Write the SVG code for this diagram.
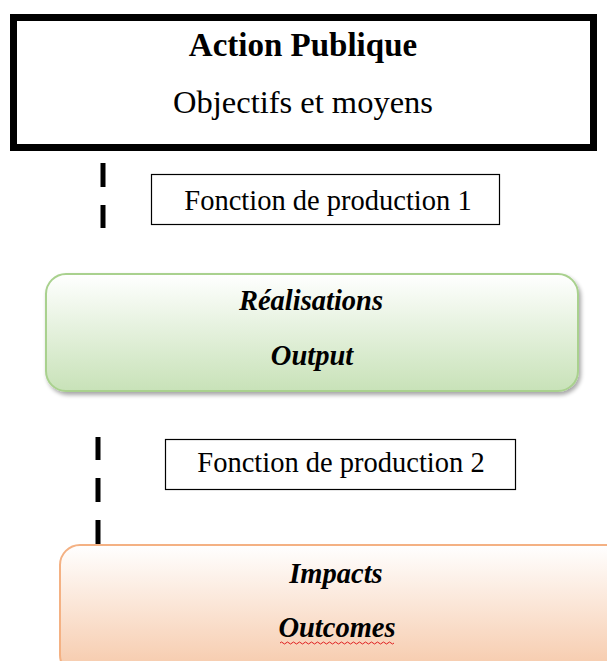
<svg xmlns="http://www.w3.org/2000/svg" width="607" height="661" viewBox="0 0 607 661">
<defs>
<linearGradient id="gGreen" x1="0" y1="0" x2="0" y2="1">
<stop offset="0" stop-color="#ffffff"/>
<stop offset="1" stop-color="#c8e2b8"/>
</linearGradient>
<linearGradient id="gOrange" x1="0" y1="0" x2="0" y2="1">
<stop offset="0" stop-color="#ffffff"/>
<stop offset="1" stop-color="#f6c8a8"/>
</linearGradient>
<filter id="shadow" x="-5%" y="-10%" width="115%" height="130%">
<feGaussianBlur in="SourceAlpha" stdDeviation="2"/>
<feOffset dx="2" dy="3"/>
<feComponentTransfer><feFuncA type="linear" slope="0.35"/></feComponentTransfer>
<feMerge><feMergeNode/><feMergeNode in="SourceGraphic"/></feMerge>
</filter>
</defs>
<style>
text{font-family:"Liberation Serif","Times New Roman",serif;fill:#000;text-anchor:middle}
.b{font-weight:bold}
.bi{font-weight:bold;font-style:italic}
.lbl{fill:#fff;stroke:#000;stroke-width:1.2}
.dash{stroke:#000;stroke-width:5;fill:none}
</style>
<g id="connectors">
<line class="dash" x1="103" y1="163" x2="103" y2="187"/>
<line class="dash" x1="103" y1="205" x2="103" y2="228"/>
<line class="dash" x1="98" y1="437" x2="98" y2="460"/>
<line class="dash" x1="98" y1="478" x2="98" y2="502"/>
<line class="dash" x1="98" y1="520" x2="98" y2="545"/>
</g>
<g id="action-publique">
<rect x="13.5" y="17.5" width="580" height="130" fill="#fff" stroke="#000" stroke-width="7"/>
<text class="b" x="303" y="56" font-size="33">Action Publique</text>
<text x="303" y="113" font-size="32.5">Objectifs et moyens</text>
</g>
<g id="fonction-1">
<rect class="lbl" x="151.5" y="174.5" width="348" height="50"/>
<text x="328" y="210" font-size="28.5">Fonction de production 1</text>
</g>
<g id="realisations">
<rect x="46" y="274" width="532" height="117" rx="20" ry="20" fill="url(#gGreen)" stroke="#a9d18e" stroke-width="2" filter="url(#shadow)"/>
<text class="bi" x="311" y="310" font-size="28.5">Réalisations</text>
<text class="bi" x="312" y="365" font-size="28.5">Output</text>
</g>
<g id="fonction-2">
<rect class="lbl" x="165.5" y="439.5" width="350" height="50"/>
<text x="341" y="472" font-size="28.5">Fonction de production 2</text>
</g>
<g id="impacts">
<rect x="60" y="545" width="570" height="130" rx="20" ry="20" fill="url(#gOrange)" stroke="#f4b183" stroke-width="2"/>
<text class="bi" x="336" y="583" font-size="28.5">Impacts</text>
<text class="bi" x="337" y="637" font-size="28.5">Outcomes</text>
<path d="M280,643 q1.5,-2 3,0 t3,0 t3,0 t3,0 t3,0 t3,0 t3,0 t3,0 t3,0 t3,0 t3,0 t3,0 t3,0 t3,0 t3,0 t3,0 t3,0 t3,0 t3,0 t3,0 t3,0 t3,0 t3,0 t3,0 t3,0 t3,0 t3,0 t3,0 t3,0 t3,0 t3,0 t3,0 t3,0 t3,0 t3,0 t3,0 t3,0 t3,0" fill="none" stroke="#e02020" stroke-width="1"/>
</g>
</svg>
